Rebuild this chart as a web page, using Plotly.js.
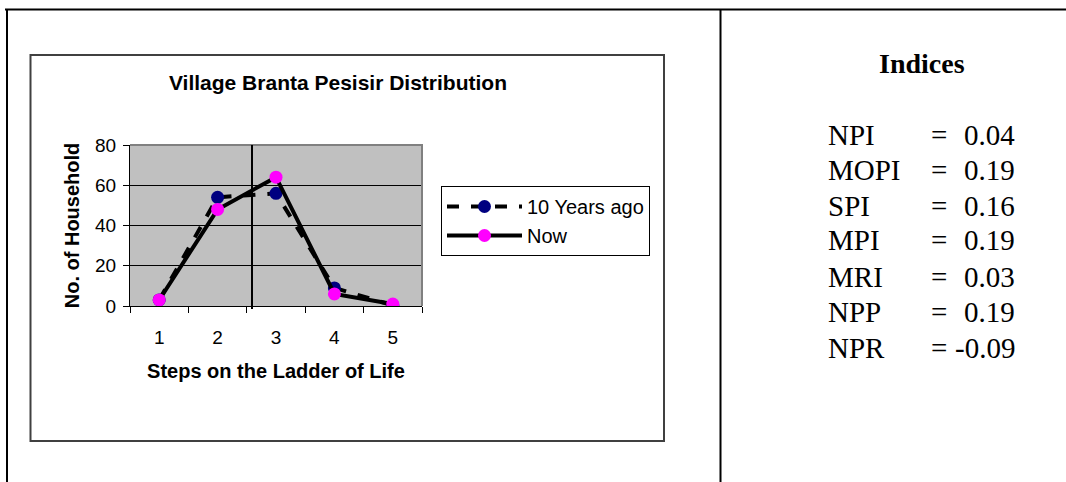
<!DOCTYPE html>
<html>
<head>
<meta charset="utf-8">
<script src="https://cdn.plot.ly/plotly-3.0.1.min.js"></script>
<style>
  html, body { margin: 0; padding: 0; background: #ffffff; }
  #chart { width: 1066px; height: 482px; }
</style>
</head>
<body>
<div id="chart"></div>
<script>
// ---- data ----
const steps = ['1', '2', '3', '4', '5'];
const tenYearsAgo = [3, 54, 56, 9, 0.3];
const now = [3, 48, 64, 6, 1];
const seriesNames = ['10 Years ago', 'Now'];
const yTicks = [0, 20, 40, 60, 80];
const indexNames = ['NPI', 'MOPI', 'SPI', 'MPI', 'MRI', 'NPP', 'NPR'];
const indexValues = ['0.04', '0.19', '0.16', '0.19', '0.03', '0.19', '-0.09'];

// ---- helpers: pixel -> paper ----
const W = 1066, H = 482;
const px = x => x / W;
const py = y => 1 - y / H;

const traces = [
  {
    type: 'scatter', mode: 'lines+markers', name: seriesNames[0],
    x: steps, y: tenYearsAgo,
    line: { color: '#000000', width: 4, dash: 'dash' },
    marker: { color: '#000080', size: 13 }
  },
  {
    type: 'scatter', mode: 'lines+markers', name: seriesNames[1],
    x: steps, y: now,
    line: { color: '#000000', width: 4 },
    marker: { color: '#FF00FF', size: 13 }
  }
];

const serif = 'Liberation Serif, Times New Roman, serif';
const annotations = [
  { xref: 'paper', yref: 'paper', x: px(922), y: py(64), xanchor: 'center', yanchor: 'middle',
    text: '<b>Indices</b>', showarrow: false,
    font: { family: serif, size: 28, color: '#000' } }
];
const rowY = [135, 170, 206, 240, 277, 312, 348];
indexNames.forEach((n, i) => {
  annotations.push({ xref: 'paper', yref: 'paper', x: px(826), y: py(rowY[i]), xanchor: 'left', yanchor: 'middle',
    text: n, showarrow: false,
    font: { family: serif, size: 29, color: '#000' } });
  annotations.push({ xref: 'paper', yref: 'paper', x: px(939), y: py(rowY[i]), xanchor: 'center', yanchor: 'middle',
    text: '=', showarrow: false,
    font: { family: serif, size: 29, color: '#000' } });
  annotations.push({ xref: 'paper', yref: 'paper', x: px(1017), y: py(rowY[i]), xanchor: 'right', yanchor: 'middle',
    text: indexValues[i], showarrow: false,
    font: { family: serif, size: 29, color: '#000' } });
});

const shapes = [
  // outer table borders
  { type: 'line', xref: 'paper', yref: 'paper', x0: px(5), x1: 1, y0: py(9.5), y1: py(9.5), line: { color: '#000', width: 2 } },
  { type: 'line', xref: 'paper', yref: 'paper', x0: px(7), x1: px(7), y0: py(9), y1: 0, line: { color: '#000', width: 2 } },
  { type: 'line', xref: 'paper', yref: 'paper', x0: px(720.5), x1: px(720.5), y0: py(9), y1: 0, line: { color: '#000', width: 2 } },
  // chart frame
  { type: 'rect', xref: 'paper', yref: 'paper', x0: px(30.5), x1: px(664), y0: py(55), y1: py(441), line: { color: '#404040', width: 2 } },
  // plot area top/right border (gray)
  { type: 'path', xref: 'paper', yref: 'paper', layer: 'above',
    path: `M ${px(130)},${py(145)} L ${px(422)},${py(145)} L ${px(422)},${py(306)}`,
    line: { color: '#808080', width: 2 } },
  // vertical marker line
  { type: 'line', xref: 'paper', yref: 'paper', x0: px(252), x1: px(252), y0: py(145), y1: py(309), line: { color: '#000', width: 2 } }
];

const layout = {
  width: W, height: H,
  margin: { l: 0, r: 0, t: 0, b: 0 },
  paper_bgcolor: '#ffffff',
  plot_bgcolor: '#C0C0C0',
  font: { family: 'Liberation Sans, Arial, sans-serif', color: '#000' },
  title: {
    text: '<b>Village Branta Pesisir Distribution</b>',
    x: px(338), xanchor: 'center', y: py(83), yanchor: 'middle',
    font: { family: 'Liberation Sans, Arial, sans-serif', size: 21, color: '#000' }
  },
  xaxis: {
    domain: [px(130), px(422)],
    type: 'category',
    range: [-0.5, 4.5],
    tickson: 'boundaries',
    ticks: 'outside', ticklen: 6, tickcolor: '#000', tickwidth: 1,
    showline: true, linecolor: '#000', linewidth: 1,
    showgrid: false, zeroline: false,
    ticklabelstandoff: 14,
    tickfont: { size: 19 },
    title: { text: '<b>Steps on the Ladder of Life</b>', font: { size: 20 }, standoff: 17 },
    fixedrange: true
  },
  yaxis: {
    domain: [py(306), py(145)],
    range: [0, 80],
    tickvals: yTicks,
    ticks: 'outside', ticklen: 6, tickcolor: '#000', tickwidth: 1,
    showline: true, linecolor: '#000', linewidth: 1,
    showgrid: true, gridcolor: '#000', gridwidth: 1,
    zeroline: false,
    ticklabelstandoff: 3,
    tickfont: { size: 19 },
    title: { text: '<b>No. of Household</b>', font: { size: 20 }, standoff: 10 },
    fixedrange: true
  },
  showlegend: true,
  legend: {
    x: px(441), y: py(186), xanchor: 'left', yanchor: 'top',
    bgcolor: '#ffffff', bordercolor: '#000', borderwidth: 1,
    font: { size: 20 }, itemwidth: 75, tracegroupgap: 0
  },
  shapes: shapes,
  annotations: annotations
};

Plotly.newPlot('chart', traces, layout, { displayModeBar: false, staticPlot: true });
</script>
</body>
</html>
